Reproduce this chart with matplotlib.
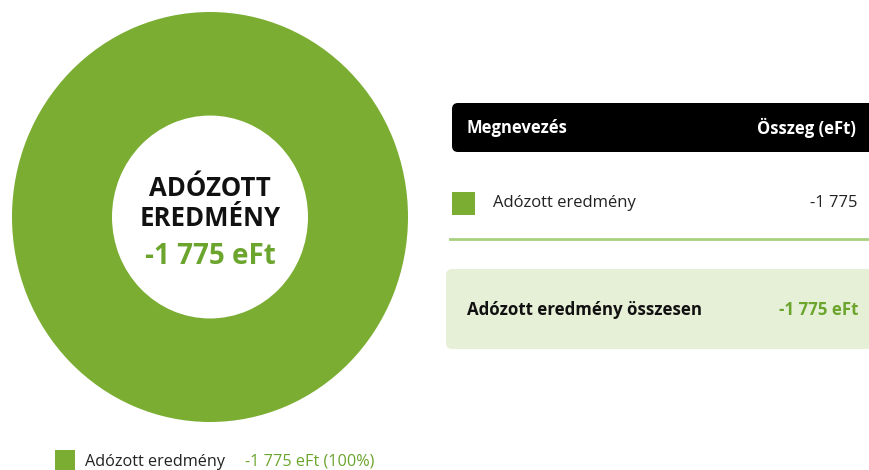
import matplotlib.pyplot as plt
from matplotlib.patches import FancyBboxPatch, Rectangle

plt.rcParams['font.family'] = ['Open Sans', 'DejaVu Sans']

# data
labels = ['Adózott eredmény']
values = [-1775]
unit = 'eFt'
green = '#7aad31'
text_green = '#6ca52d'

def fmt(v):
    return f'{v:,}'.replace(',', ' ')

total = sum(values)

fig = plt.figure(figsize=(8.7, 4.7), dpi=100)
W, H = 870, 470

# donut (slightly taller than wide, like the reference)
cx, cy, rx, ry = 210, 217, 198, 205
pax = fig.add_axes([(cx - rx) / W, (H - cy - ry) / H, 2 * rx / W, 2 * ry / H])
pax.pie([abs(v) for v in values], colors=[green], radius=1, startangle=90,
        wedgeprops=dict(width=1 - 98 / rx, edgecolor='none'))
pax.set_aspect('auto')
pax.set_xlim(-1, 1)
pax.set_ylim(-1, 1)
pax.axis('off')

# overlay in pixel coords
ax = fig.add_axes([0, 0, 1, 1])
ax.set_xlim(0, W)
ax.set_ylim(H, 0)
ax.axis('off')

ax.text(cx, 188, 'ADÓZOTT', ha='center', va='center', fontsize=18.5, fontweight='bold', color='#111111')
ax.text(cx, 219, 'EREDMÉNY', ha='center', va='center', fontsize=18.5, fontweight='bold', color='#111111')
ax.text(cx, 257, f'{fmt(total)} {unit}', ha='center', va='center', fontsize=20, fontweight='bold', color=text_green)

# table header
ax.add_patch(FancyBboxPatch((452, 103), 430, 49, boxstyle='round,pad=0,rounding_size=6',
                            facecolor='#000000', edgecolor='none'))
ax.text(467, 128, 'Megnevezés', ha='left', va='center', fontsize=12, fontweight='bold', color='white')
ax.text(856, 128, 'Összeg (eFt)', ha='right', va='center', fontsize=12, fontweight='bold', color='white')

# rows
for i, (lab, v) in enumerate(zip(labels, values)):
    y = 203 + i * 40
    ax.add_patch(Rectangle((452, y - 11), 23, 23, facecolor=green, edgecolor='none'))
    ax.text(493, y, lab, ha='left', va='center', fontsize=12, color='#222222')
    ax.text(858, y, fmt(v), ha='right', va='center', fontsize=12, color='#222222')
ax.plot([450, 870], [239, 239], color='#a9d07f', lw=2)

# total box
ax.add_patch(FancyBboxPatch((446, 269), 440, 80, boxstyle='round,pad=0,rounding_size=6',
                            facecolor='#e6f0d7', edgecolor='none'))
ax.text(467, 310, 'Adózott eredmény összesen', ha='left', va='center', fontsize=12.2, fontweight='bold', color='#111111')
ax.text(858, 310, f'{fmt(total)} {unit}', ha='right', va='center', fontsize=12.2, fontweight='bold', color=text_green)

# legend
ax.add_patch(Rectangle((55, 450), 20, 20, facecolor=green, edgecolor='none'))
ax.text(85, 462, labels[0], ha='left', va='center', fontsize=11.7, color='#222222')
ax.text(245, 462, f'{fmt(values[0])} {unit} (100%)', ha='left', va='center', fontsize=11.7, color=text_green)

fig.savefig('out.png', dpi=100)
